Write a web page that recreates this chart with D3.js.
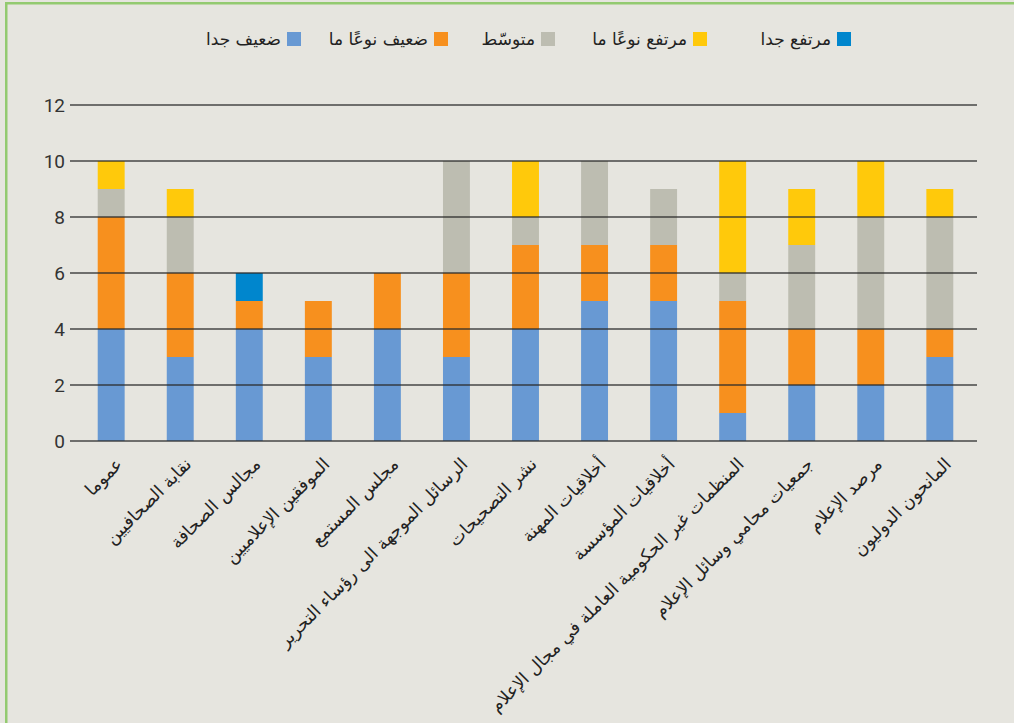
<!DOCTYPE html>
<html lang="ar">
<head>
  <meta charset="UTF-8">
  <title>Stacked bars</title>
  <style>
    body {
      margin: 0;
      background: #e6e5df;
    }
    svg {
      display: block;
    }
    .axis--y text {
      font-family: "Roboto", sans-serif;
      font-size: 19px;
      fill: #333;
    }
    .grid line {
      stroke: #2b2b2b;
      stroke-width: 1.3;
      opacity: 0.85;
    }
    .xlabel {
      font-family: "DejaVu Sans", sans-serif;
      font-size: 17.5px;
      fill: #222;
    }
    .legend text {
      font-family: "DejaVu Sans", sans-serif;
      font-size: 17px;
      fill: #222;
    }
  </style>
  <script src="https://cdn.jsdelivr.net/npm/d3@7"></script>
</head>
<body>
  <div id="chart"></div>
  <script>
/* global d3 */

var categories = [
  "عموما",
  "نقابة الصحافيين",
  "مجالس الصحافة",
  "الموفقين الإعلاميين",
  "مجلس المستمع",
  "الرسائل الموجهة الى رؤساء التحرير",
  "نشر التصحيحات",
  "أخلاقيات المهنة",
  "أخلاقيات المؤسسة",
  "المنظمات غير الحكومية العاملة في مجال الإعلام",
  "جمعيات محامي وسائل الإعلام",
  "مرصد الإعلام",
  "المانحون الدوليون"
];

var seriesNames = ["ضعيف جدا", "ضعيف نوعًا ما", "متوسّط", "مرتفع نوعًا ما", "مرتفع جدا"];
var seriesColors = ["#6899d3", "#f7901e", "#bdbdb1", "#ffc90b", "#0086cd"];

var veryLow    = [4, 3, 4, 3, 4, 3, 4, 5, 5, 1, 2, 2, 3];
var fairlyLow  = [4, 3, 1, 2, 2, 3, 3, 2, 2, 4, 2, 2, 1];
var medium     = [1, 2, 0, 0, 0, 4, 1, 3, 2, 1, 3, 4, 4];
var fairlyHigh = [1, 1, 0, 0, 0, 0, 2, 0, 0, 4, 2, 2, 1];
var veryHigh   = [0, 0, 1, 0, 0, 0, 0, 0, 0, 0, 0, 0, 0];

var yTicks = [0, 2, 4, 6, 8, 10, 12];

var W = 1014, H = 723;
var svg = d3.select("#chart")
  .append("svg")
  .attr("width", W)
  .attr("height", H);

// frame: green line top and left
svg.append("rect")
  .attr("x", 5).attr("y", 2)
  .attr("width", W - 5).attr("height", 2.5)
  .attr("fill", "#93ca70");
svg.append("rect")
  .attr("x", 5).attr("y", 2)
  .attr("width", 2.5).attr("height", H - 2)
  .attr("fill", "#93ca70");

var rows = categories.map(function (c, i) {
  var r = {cat: c};
  r[seriesNames[0]] = veryLow[i];
  r[seriesNames[1]] = fairlyLow[i];
  r[seriesNames[2]] = medium[i];
  r[seriesNames[3]] = fairlyHigh[i];
  r[seriesNames[4]] = veryHigh[i];
  return r;
});

var stacked = d3.stack().keys(seriesNames)(rows);

var x = d3.scaleBand()
  .domain(categories)
  .range([77, 974])
  .paddingInner(0.61)
  .paddingOuter(0.3);

var y = d3.scaleLinear()
  .domain([0, 12])
  .range([441, 105]);

var color = d3.scaleOrdinal().domain(seriesNames).range(seriesColors);

// bars
svg.append("g")
  .selectAll("g")
  .data(stacked)
  .join("g")
  .attr("fill", function (d) { return color(d.key); })
  .selectAll("rect")
  .data(function (d) { return d; })
  .join("rect")
  .attr("x", function (d) { return x(d.data.cat); })
  .attr("width", x.bandwidth())
  .attr("y", function (d) { return y(d[1]); })
  .attr("height", function (d) { return y(d[0]) - y(d[1]); });

// gridlines on top of bars
svg.append("g")
  .attr("class", "grid")
  .selectAll("line")
  .data(yTicks)
  .join("line")
  .attr("x1", 70)
  .attr("x2", 977)
  .attr("y1", function (d) { return y(d); })
  .attr("y2", function (d) { return y(d); });

// y axis labels
svg.append("g")
  .attr("class", "axis--y")
  .attr("transform", "translate(70,0)")
  .call(d3.axisLeft(y).tickValues(yTicks).tickSize(0).tickPadding(5))
  .call(function (g) { g.select(".domain").remove(); });

// rotated category labels
svg.append("g")
  .selectAll("text")
  .data(categories)
  .join("text")
  .attr("class", "xlabel")
  .attr("text-anchor", "end")
  .attr("transform", function (d) {
    var cx = x(d) + x.bandwidth() / 2 + 8;
    return "translate(" + cx + ",461) rotate(-45)";
  })
  .attr("dy", "0.35em")
  .text(function (d) { return d; });

// legend, right to left
var legendX = [837, 693, 541, 434, 287];
var legendOrder = [4, 3, 2, 1, 0];
var legend = svg.append("g")
  .attr("class", "legend")
  .selectAll("g")
  .data(legendOrder)
  .join("g")
  .attr("transform", function (d, i) { return "translate(" + legendX[i] + ",32)"; });

legend.append("rect")
  .attr("width", 14)
  .attr("height", 14)
  .attr("fill", function (d) { return seriesColors[d]; });

legend.append("text")
  .attr("x", -6)
  .attr("y", 7)
  .attr("dy", "0.35em")
  .attr("text-anchor", "end")
  .text(function (d) { return seriesNames[d]; });
  </script>
</body>
</html>
